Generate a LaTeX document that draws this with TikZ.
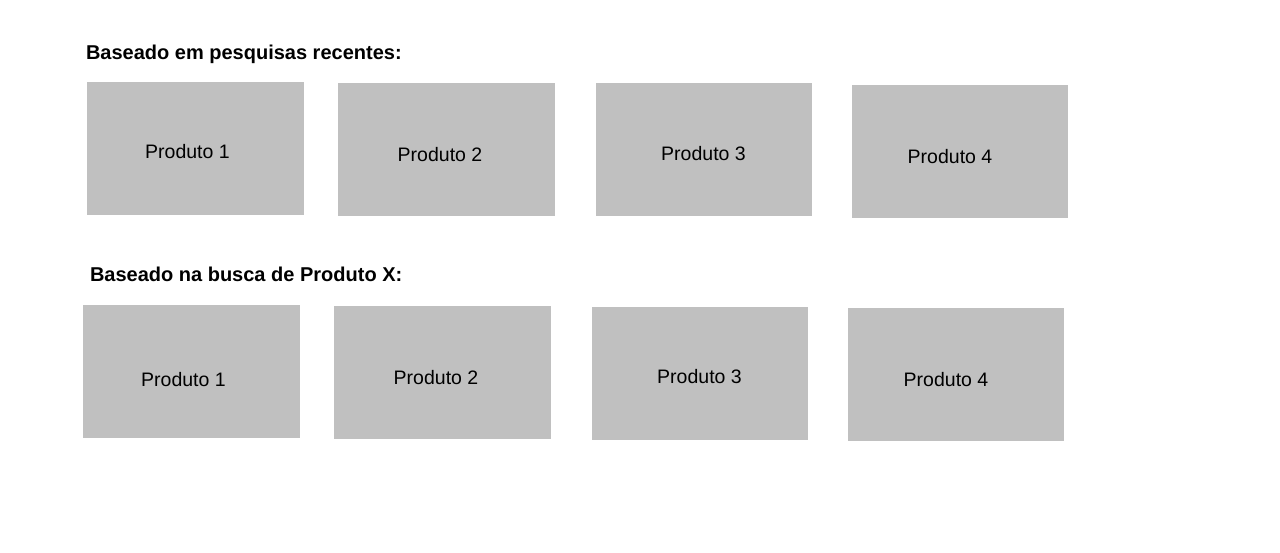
\documentclass[tikz,border=0pt]{standalone}
\usepackage{fontspec}
\setmainfont{Liberation Sans}
\usetikzlibrary{fit}
\definecolor{custcol_c0_c0_c0}{RGB}{192, 192, 192}
\definecolor{custcol_0_0_0}{RGB}{0, 0, 0}
\tikzset{
  prodbox/.style={inner sep=0, outer sep=0, fill=custcol_c0_c0_c0, draw=none},
  prodlabel/.style={inner sep=0, outer sep=0, custcol_0_0_0, font=\fontsize{19.5pt}{19.5pt}\selectfont},
  heading/.style={inner sep=0, outer sep=0, custcol_0_0_0, anchor=base west, font=\fontsize{20pt}{20pt}\bfseries\selectfont}
}
\begin{document}
\begin{tikzpicture}[x=1pt,y=-1pt,line cap=rect]
\useasboundingbox (0,0) rectangle (1280,553);
\node[heading] (headA) at (86.0,60.0) {Baseado em pesquisas recentes:};
\node[heading] (headB) at (90.0,282.0) {Baseado na busca de Produto X:};
% first row
\foreach \i/\xa/\ya/\xb/\yb/\tx/\ty in {1/87/82/304/215/187.5/152.0, 2/338/83/555/216/440.0/155.0, 3/596/83/812/216/703.5/153.5, 4/852/85/1068/218/950.0/156.5}{
  \node[prodbox, fit={(\xa,\ya) (\xb,\yb)}] (boxA\i) {};
  \node[prodlabel] (labelA\i) at (\tx,\ty) {Produto \i};
}
% second row
\foreach \i/\xa/\ya/\xb/\yb/\tx/\ty in {1/83/305/300/438/183.5/380.0, 2/334/306/551/439/436.0/377.5, 3/592/307/808/440/699.5/376.5, 4/848/308/1064/441/946.0/379.5}{
  \node[prodbox, fit={(\xa,\ya) (\xb,\yb)}] (boxB\i) {};
  \node[prodlabel] (labelB\i) at (\tx,\ty) {Produto \i};
}
\end{tikzpicture}
\end{document}
